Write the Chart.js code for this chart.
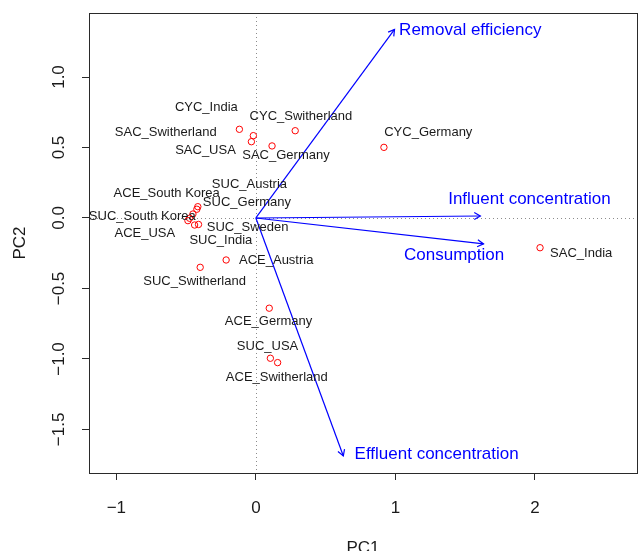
<!DOCTYPE html>
<html>
<head>
<meta charset="utf-8">
<title>PCA biplot</title>
<script src="https://cdn.jsdelivr.net/npm/chart.js@4.4.1/dist/chart.umd.min.js"></script>
<style>
  html, body { margin: 0; padding: 0; overflow: hidden; background: #fff; }
  #wrap { width: 642px; height: 551px; }
</style>
</head>
<body>
<div id="wrap"><canvas id="BiplotChart" width="642" height="551"></canvas></div>
<script>
// Sites (scores)
var sites = [
  "CYC_India", "SAC_Switherland", "SAC_USA", "CYC_Switherland", "SAC_Germany",
  "CYC_Germany", "SAC_India", "ACE_South Korea", "SUC_Austria", "SUC_Germany",
  "SUC_South Korea", "ACE_USA", "SUC_India", "SUC_Sweden", "ACE_Austria",
  "SUC_Switherland", "ACE_Germany", "SUC_USA", "ACE_Switherland"
];
var pc1 = [-0.118, -0.018, -0.032, 0.282, 0.116, 0.918, 2.037, -0.416, -0.423, -0.451,
           -0.475, -0.487, -0.439, -0.411, -0.213, -0.399, 0.096, 0.104, 0.156];
var pc2 = [0.629, 0.584, 0.541, 0.619, 0.511, 0.501, -0.211, 0.080, 0.062, 0.028,
           -0.002, -0.019, -0.050, -0.046, -0.298, -0.350, -0.640, -0.995, -1.026];

// where each site name is written (PC units)
var siteLabelPc1 = [-0.355, -0.646, -0.361, 0.323, 0.216, 1.236, 2.332, -0.639, -0.046, -0.064,
                    -0.814, -0.796, -0.251, -0.059, 0.146, -0.439, 0.091, 0.084, 0.150];
var siteLabelPc2 = [0.785, 0.608, 0.482, 0.723, 0.442, 0.608, -0.250, 0.175, 0.241, 0.109,
                    0.009, -0.109, -0.156, -0.066, -0.303, -0.452, -0.735, -0.908, -1.133];

// Variables (loadings)
var variables = ["Removal efficiency", "Influent concentration", "Consumption", "Effluent concentration"];
var loadPc1 = [0.994, 1.609, 1.632, 0.627];
var loadPc2 = [1.338, 0.014, -0.184, -1.688];
var varLabelPc1 = [1.537, 1.961, 1.421, 1.296];
var varLabelPc2 = [1.328, 0.133, -0.262, -1.676];

// Axes
var xTicks = [-1, 0, 1, 2];
var yTicks = [-1.5, -1.0, -0.5, 0.0, 0.5, 1.0];
var xRange = [-1.196, 2.732];
var yRange = [-1.809, 1.454];

var FONT = '"Liberation Sans", Arial, sans-serif';
var INK = "#1a1a1a";

function fmtTick(v, digits) {
  var s = v.toFixed(digits);
  return s.replace("-", "\u2212");
}

var datasets = [
  {
    label: "sites",
    data: sites.map(function (s, i) { return { x: pc1[i], y: pc2[i] }; }),
    pointStyle: "circle",
    pointRadius: 3.2,
    pointBorderWidth: 1,
    pointBorderColor: "#ff0000",
    pointBackgroundColor: "rgba(0,0,0,0)",
    showLine: false
  }
];
variables.forEach(function (v, i) {
  datasets.push({
    label: v,
    data: [{ x: 0, y: 0 }, { x: loadPc1[i], y: loadPc2[i] }],
    showLine: true,
    borderColor: "#0000ff",
    borderWidth: 1.2,
    pointRadius: 0
  });
});

// zero lines, box, arrow heads, text
var biplotDecor = {
  id: "biplotDecor",
  beforeDatasetsDraw: function (chart) {
    var ctx = chart.ctx, a = chart.chartArea;
    var xs = chart.scales.x, ys = chart.scales.y;
    var x0 = Math.round(xs.getPixelForValue(0)) + 0.5;
    var y0 = Math.round(ys.getPixelForValue(0)) + 0.5;
    ctx.save();
    ctx.strokeStyle = "#8c8c8c";
    ctx.lineWidth = 1;
    ctx.setLineDash([1, 3]);
    ctx.beginPath();
    ctx.moveTo(x0, a.top); ctx.lineTo(x0, a.bottom);
    ctx.moveTo(a.left, y0); ctx.lineTo(a.right, y0);
    ctx.stroke();
    ctx.setLineDash([]);
    ctx.strokeStyle = "#2a2a2a";
    ctx.strokeRect(Math.round(a.left) + 0.5, Math.round(a.top) + 0.5,
      Math.round(a.right - a.left), Math.round(a.bottom - a.top));
    ctx.restore();
  },
  afterDatasetsDraw: function (chart) {
    var ctx = chart.ctx;
    var xs = chart.scales.x, ys = chart.scales.y;
    var ox = xs.getPixelForValue(0), oy = ys.getPixelForValue(0);
    ctx.save();

    // arrow heads
    ctx.strokeStyle = "#0000ff";
    ctx.lineWidth = 1.2;
    variables.forEach(function (v, i) {
      var tx = xs.getPixelForValue(loadPc1[i]);
      var ty = ys.getPixelForValue(loadPc2[i]);
      var ang = Math.atan2(ty - oy, tx - ox);
      var len = 7, spread = Math.PI / 6;
      ctx.beginPath();
      ctx.moveTo(tx - len * Math.cos(ang - spread), ty - len * Math.sin(ang - spread));
      ctx.lineTo(tx, ty);
      ctx.lineTo(tx - len * Math.cos(ang + spread), ty - len * Math.sin(ang + spread));
      ctx.stroke();
    });

    // variable names
    ctx.fillStyle = "#0000ff";
    ctx.font = "17px " + FONT;
    ctx.textAlign = "center";
    ctx.textBaseline = "middle";
    variables.forEach(function (v, i) {
      ctx.fillText(v, xs.getPixelForValue(varLabelPc1[i]), ys.getPixelForValue(varLabelPc2[i]));
    });

    // site names
    ctx.fillStyle = INK;
    ctx.font = "13px " + FONT;
    sites.forEach(function (s, i) {
      ctx.fillText(s, xs.getPixelForValue(siteLabelPc1[i]), ys.getPixelForValue(siteLabelPc2[i]));
    });
    ctx.restore();
  },
  afterDraw: function (chart) {
    var ctx = chart.ctx, a = chart.chartArea;
    var xs = chart.scales.x, ys = chart.scales.y;
    ctx.save();
    ctx.fillStyle = INK;
    ctx.font = "17px " + FONT;
    ctx.textAlign = "center";
    ctx.textBaseline = "middle";
    xTicks.forEach(function (v) {
      ctx.fillText(fmtTick(v, 0), xs.getPixelForValue(v), 508);
    });
    yTicks.forEach(function (v) {
      ctx.save();
      ctx.translate(59, ys.getPixelForValue(v));
      ctx.rotate(-Math.PI / 2);
      ctx.fillText(fmtTick(v, 1), 0, 0);
      ctx.restore();
    });
    ctx.textBaseline = "alphabetic";
    ctx.fillText("PC1", (a.left + a.right) / 2, 553);
    ctx.save();
    ctx.translate(25, (a.top + a.bottom) / 2);
    ctx.rotate(-Math.PI / 2);
    ctx.fillText("PC2", 0, 0);
    ctx.restore();
    ctx.restore();
  }
};

var ctx = document.getElementById("BiplotChart").getContext("2d");
var chart = new Chart(ctx, {
  type: "scatter",
  data: { datasets: datasets },
  options: {
    responsive: false,
    animation: false,
    devicePixelRatio: 1,
    layout: { padding: { left: 0, right: 3, top: 13, bottom: 0 } },
    plugins: {
      legend: { display: false },
      tooltip: { enabled: false }
    },
    scales: {
      x: {
        type: "linear",
        min: xRange[0],
        max: xRange[1],
        afterBuildTicks: function (scale) {
          scale.ticks = xTicks.map(function (v) { return { value: v }; });
        },
        afterFit: function (scale) { scale.height = 78; },
        ticks: { display: false },
        grid: { drawOnChartArea: false, drawTicks: true, tickLength: 7, color: "#2a2a2a" },
        border: { display: false }
      },
      y: {
        type: "linear",
        min: yRange[0],
        max: yRange[1],
        afterBuildTicks: function (scale) {
          scale.ticks = yTicks.map(function (v) { return { value: v }; });
        },
        afterFit: function (scale) { scale.width = 89; },
        ticks: { display: false },
        grid: { drawOnChartArea: false, drawTicks: true, tickLength: 7, color: "#2a2a2a" },
        border: { display: false }
      }
    }
  },
  plugins: [biplotDecor]
});
</script>
</body>
</html>
